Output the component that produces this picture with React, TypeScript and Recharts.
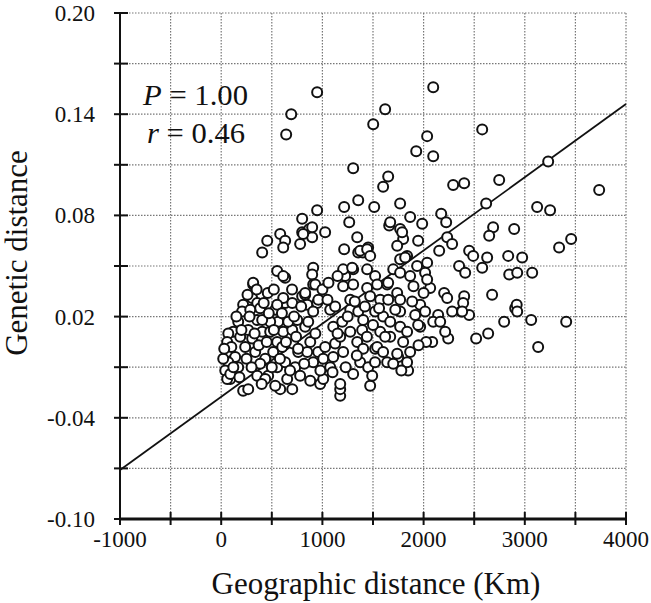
import { ScatterChart, Scatter, XAxis, YAxis, CartesianGrid, ReferenceLine } from "recharts";

// axis ticks (every tick gets a dotted grid line, every other one a label)
const X_TICKS = [-1000, -500, 0, 500, 1000, 1500, 2000, 2500, 3000, 3500, 4000];
const X_LABELS = [-1000, 0, 1000, 2000, 3000, 4000];
const Y_TICKS = [-0.1, -0.07, -0.04, -0.01, 0.02, 0.05, 0.08, 0.11, 0.14, 0.17, 0.2];
const Y_LABELS = [-0.1, -0.04, 0.02, 0.08, 0.14, 0.2];

// regression line end points
const FIT_X = [-1000, 4000];
const FIT_Y = [-0.071, 0.146];

// geographic distance (km) / genetic distance, by region of the cloud
const KM_UPPER = [948, 692, 642, 2095, 1620, 1502, 2035, 1927, 2095, 2579,
  1304, 1650, 1600, 2292, 2401, 2747, 3231, 3735, 3122, 3250,
  2618, 1354, 1215, 1265, 1512, 1768, 1867, 1986, 2174, 2223,
  1027, 1660, 1768, 1798, 1739, 1946, 2233, 2282, 2687, 2648,
  2895, 3339, 3458, 1215, 1344, 1452, 1354, 1400, 2154, 2450,
  2490, 2628, 2836, 2974, 1225, 1304, 1521, 1867, 2035, 1936,
  2015, 2065, 2351, 2411, 2579, 2846, 2925, 3073, 1640, 2203,
  2401, 2677, 2905, 2920, 2796, 3063, 3409, 3132, 2519, 2638,
  2371, 2450, 2243, 2085, 2025, 2213, 2144, 1966, 1847, 1867,
  1749, 1472, 1176, 1176, 1640, 1521];
const GD_UPPER = [0.153, 0.14, 0.128, 0.156, 0.143, 0.134, 0.127, 0.118, 0.115, 0.131,
  0.108, 0.103, 0.097, 0.098, 0.099, 0.101, 0.112, 0.095, 0.085, 0.083,
  0.087, 0.089, 0.085, 0.076, 0.085, 0.087, 0.079, 0.075, 0.081, 0.076,
  0.07, 0.074, 0.072, 0.066, 0.062, 0.065, 0.067, 0.063, 0.073, 0.068,
  0.072, 0.061, 0.066, 0.06, 0.067, 0.061, 0.058, 0.058, 0.059, 0.059,
  0.056, 0.055, 0.056, 0.055, 0.044, 0.048, 0.044, 0.044, 0.052, 0.05,
  0.046, 0.037, 0.05, 0.046, 0.049, 0.045, 0.046, 0.046, 0.039, 0.034,
  0.032, 0.033, 0.025, 0.027, 0.017, 0.018, 0.017, 0.002, 0.007, 0.01,
  0.023, 0.021, 0.007, 0.005, 0.005, 0.011, 0.021, 0.014, -0.012, -0.001,
  -0.004, -0.021, -0.027, -0.023, -0.007, 0.001];

const KM_NEAR = [316, 306, 217, 356, 385, 207, 287, 168, 267, 356,
  119, 70, 188, 306, 405, 59, 237, 336, 59, 138,
  435, 70, 40, 168, 89, 217, 356, 464, 553, 583,
  702, 652, 514, 553, 484, 613, 702, 563, 662, 751,
  534, 632, 702, 800, 613, 484, 405, 603, 632, 731,
  761, 711, 385, 435, 534];
const GD_NEAR = [0.039, 0.031, 0.027, 0.028, 0.025, 0.023, 0.024, 0.017, 0.012, 0.018,
  0.011, 0.01, 0.008, 0.007, 0.011, 0.005, 0.002, -0.001, -0.001, -0.004,
  -0.005, -0.007, -0.012, -0.01, -0.017, -0.024, -0.015, -0.015, -0.01, -0.023,
  -0.023, -0.017, -0.001, 0.005, 0.011, 0.011, 0.012, 0.017, 0.017, 0.018,
  0.024, 0.028, 0.028, 0.032, 0.031, 0.017, 0.018, 0.002, -0.007, -0.01,
  -0.001, 0.004, -0.008, -0.017, -0.021];

const KM_LEFT = [267, 978, 59, 90, 553, 830, 948,
  455, 405, 583, 632, 613, 800, 800, 780, 553, 632,
  316, 870, 948, 899, 909, 899, 909, 830, 613,
  899, 810, 1670, 1768, 1837, 1373, 1442, 1472, 1205, 1294, 1442, 1700, 1768, 1788];
const GD_LEFT = [-0.023, -0.02, -0.017, -0.014, 0.027, 0.033, 0.028,
  0.065, 0.058, 0.069, 0.065, 0.061, 0.078, 0.07, 0.063, 0.047, 0.043,
  0.04, 0.072, 0.083, 0.067, 0.049, 0.045, 0.039, 0.034, 0.044,
  0.073, 0.069, 0.076, 0.054, 0.056, 0.059, 0.06, 0.056, 0.048, 0.049, 0.048, 0.048, 0.046, 0.07];

const KM_MID = [929, 850, 909, 830, 880, 850, 909, 958, 1008, 1077,
  1008, 1107, 1027, 1126, 1205, 1176, 1107, 1196, 1077, 1126,
  1275, 1275, 1354, 1393, 1275, 1344, 1403, 1373, 1304, 1452,
  1492, 1176, 1205, 1304, 1442, 1541, 1650, 1739, 1768, 1571,
  1472, 1521, 1600, 1670, 1768, 1571, 1670, 1768, 1541, 1600,
  1739, 1798, 1403,
  1818, 2035, 2233, 2391, 2282, 2381, 1966, 1887, 1917, 2015, 2095, 2164, 1946, 1837, 1837, 2925];
const GD_MID = [0.039, 0.027, 0.023, 0.014, 0.005, -0.001, -0.007, -0.001, -0.017, -0.01,
  -0.005, -0.004, 0.002, 0.004, -0.001, 0.008, 0.014, 0.017, 0.024, 0.026,
  0.03, 0.024, 0.023, 0.012, 0.011, 0.005, 0.001, -0.007, -0.014, -0.01,
  -0.015, -0.02, 0.038, 0.039, 0.037, 0.039, 0.04, 0.034, 0.03, 0.03,
  0.032, 0.023, 0.02, 0.017, 0.023, 0.011, 0.008, 0.014, 0.002, -0.001,
  -0.002, 0.005, 0.018,
  0.055, 0.042, 0.031, 0.028, 0.023, 0.023, 0.027, 0.029, 0.021, 0.023, 0.017, 0.017, 0.015, 0.011, -0.007, 0.023];

const KM_CORE = [100, 150, 200, 250, 280, 330, 370, 420, 450, 470,
  500, 520, 580, 600, 640, 680, 720, 740, 780, 790,
  820, 860, 880, 930, 960, 980, 120, 180, 300, 400,
  460, 520, 700, 760, 20, 30, 260, 350,
  1050, 1100, 1150, 1230, 1250, 1320, 1340, 1420, 1440, 1500,
  1520, 1560, 1620, 1650, 1700, 1720, 1780, 1000, 1060, 1150,
  1950, 2000, 1900];
const GD_CORE = [0.002, 0.02, 0.012, -0.005, 0.02, 0.01, 0.003, 0.028, 0.005, 0.022,
  -0.01, 0.012, -0.005, 0.022, 0.005, -0.012, 0.02, 0.008, -0.015, 0.026,
  -0.008, 0.017, -0.018, 0.01, 0.03, -0.012, -0.01, -0.016, -0.01, -0.02,
  0.034, 0.036, 0.036, 0.001, -0.005, 0.001, 0.033, 0.036,
  0.03, -0.013, 0.01, -0.01, 0.02, 0.029, -0.003, 0.026, 0.008, 0.015,
  -0.007, 0.025, 0.008, 0.03, -0.008, 0.024, -0.012, 0.036, 0.04, 0.044,
  0.003, 0.034, 0.038];

const KM = [...KM_UPPER, ...KM_NEAR, ...KM_LEFT, ...KM_MID, ...KM_CORE];
const GD = [...GD_UPPER, ...GD_NEAR, ...GD_LEFT, ...GD_MID, ...GD_CORE];
const points = KM.map((x, i) => ({ x, y: GD[i] }));

const W = 651;
const H = 603;
const LEFT = 120;
const TOP = 13;
const RIGHT = 626;
const BOTTOM = 519;
const FONT = "'Liberation Serif', 'Times New Roman', serif";
const serif = { fontFamily: FONT };

const isIn = (list: number[], v: number) => list.some((l) => Math.abs(l - v) < 1e-9);

const XTick = (props: any) => {
  const { x, payload } = props;
  const v = payload.value;
  return (
    <g>
      <line x1={x} x2={x} y1={BOTTOM - 7} y2={BOTTOM + 6} stroke="#111" strokeWidth={2} />
      {isIn(X_LABELS, v) && (
        <text x={x} y={547} textAnchor="middle" fontSize={23} style={serif} fill="#111">
          {v}
        </text>
      )}
    </g>
  );
};

const YTick = (props: any) => {
  const { y, payload } = props;
  const v = payload.value;
  return (
    <g>
      <line x1={LEFT - 6} x2={LEFT + 8} y1={y} y2={y} stroke="#111" strokeWidth={2} />
      {isIn(Y_LABELS, v) && (
        <text x={95} y={y} dy="0.35em" textAnchor="end" fontSize={23} style={serif} fill="#111">
          {v.toFixed(2)}
        </text>
      )}
    </g>
  );
};

const Dot = (props: any) => {
  const { cx, cy } = props;
  if (cx == null || cy == null) return <g />;
  return <circle cx={cx} cy={cy} r={5} fill="#fff" stroke="#111" strokeWidth={2} />;
};

export default function App() {
  return (
    <div style={{ position: "absolute", left: 0, top: 0, width: W, height: H, background: "#fff", fontFamily: FONT }}>
      <ScatterChart width={W} height={H} margin={{ top: TOP, right: W - RIGHT, bottom: 0, left: 0 }}>
        <CartesianGrid stroke="#777" strokeDasharray="1.5 1.5" strokeWidth={1.2} />
        <XAxis
          type="number"
          dataKey="x"
          domain={[-1000, 4000]}
          ticks={X_TICKS}
          allowDataOverflow
          height={H - BOTTOM}
          axisLine={{ stroke: "#111", strokeWidth: 3 }}
          tickLine={false}
          tick={<XTick />}
          interval={0}
        />
        <YAxis
          type="number"
          dataKey="y"
          domain={[-0.1, 0.2]}
          ticks={Y_TICKS}
          allowDataOverflow
          width={LEFT}
          axisLine={{ stroke: "#111", strokeWidth: 2 }}
          tickLine={false}
          tick={<YTick />}
          interval={0}
        />
        <Scatter data={points} shape={<Dot />} isAnimationActive={false} />
        <ReferenceLine
          segment={[
            { x: FIT_X[0], y: FIT_Y[0] },
            { x: FIT_X[1], y: FIT_Y[1] },
          ]}
          stroke="#111"
          strokeWidth={1.8}
        />
      </ScatterChart>
      <svg width={W} height={H} style={{ position: "absolute", left: 0, top: 0, pointerEvents: "none" }}>
        <text x={(LEFT + RIGHT) / 2 + 3} y={594} textAnchor="middle" fontSize={31} style={serif} fill="#111">
          Geographic distance (Km)
        </text>
        <text transform="rotate(-90)" x={-253} y={27} textAnchor="middle" fontSize={31} style={serif} fill="#111">
          Genetic distance
        </text>
        <text x={143} y={105} fontSize={30} style={serif} fill="#111" textLength={105} lengthAdjust="spacingAndGlyphs">
          <tspan fontStyle="italic">P</tspan> = 1.00
        </text>
        <text x={147} y={143} fontSize={30} style={serif} fill="#111" textLength={98} lengthAdjust="spacingAndGlyphs">
          <tspan fontStyle="italic">r</tspan> = 0.46
        </text>
      </svg>
    </div>
  );
}
